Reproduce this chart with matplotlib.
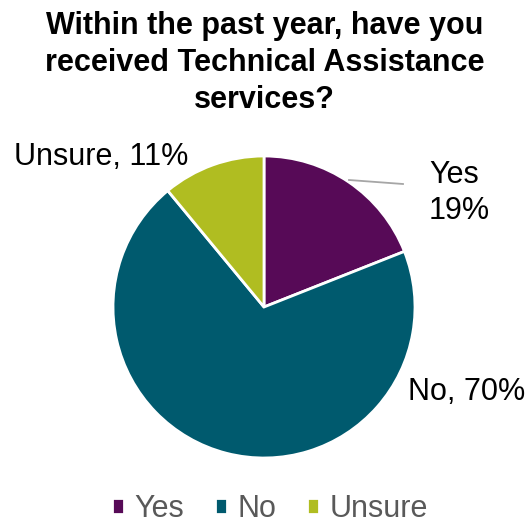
import matplotlib
matplotlib.use("Agg")
import matplotlib.pyplot as plt

# survey answers
labels = ["Yes", "No", "Unsure"]
shares = [19, 70, 11]
colors = ["#570A57", "#005A6E", "#B0BD21"]

plt.rcParams['font.family'] = ['Liberation Sans', 'DejaVu Sans']

W, H = 529, 526
fig = plt.figure(figsize=(W / 100, H / 100), dpi=100)

# pie axes placed by pixel centre and radius
cx, cy, r = 264, 307, 151
ax = fig.add_axes([(cx - r) / W, (H - cy - r) / H, 2 * r / W, 2 * r / H])
wedges, _ = ax.pie(shares, colors=colors, startangle=90, counterclock=False,
                   radius=1, wedgeprops=dict(edgecolor="white", linewidth=2))
ax.set_xlim(-1, 1)
ax.set_ylim(-1, 1)
ax.set_aspect("equal")
ax.axis("off")


def px(x, y):
    return (x - cx) / r, (cy - y) / r


# data labels
ax.text(*px(429, 193), f"{labels[0]}\n{shares[0]}%", ha="left", va="center",
        fontsize=22, linespacing=1.3, clip_on=False)
ax.text(*px(467, 392), f"{labels[1]}, {shares[1]}%", ha="center", va="center",
        fontsize=22, clip_on=False)
ax.text(*px(101, 157), f"{labels[2]}, {shares[2]}%", ha="center", va="center",
        fontsize=22, clip_on=False)

# leader line for the Yes label
x0, y0 = px(349, 180)
x1, y1 = px(403, 184)
ax.plot([x0, x1], [y0, y1], color="#A6A6A6", lw=1.3, clip_on=False)

fig.text(0.5, 1 - 63 / H, "Within the past year, have you\nreceived Technical Assistance\nservices?",
         ha="center", va="center", fontsize=22, fontweight="bold", linespacing=1.3)

fig.legend(wedges, labels, loc="center", bbox_to_anchor=(270 / W, 1 - 509 / H), ncol=3,
           frameon=False, fontsize=22, labelcolor="#595959", handlelength=0.4,
           handleheight=0.4, handletextpad=0.35, columnspacing=1.0,
           borderpad=0, borderaxespad=0)

fig.savefig("out.png", dpi=100)
